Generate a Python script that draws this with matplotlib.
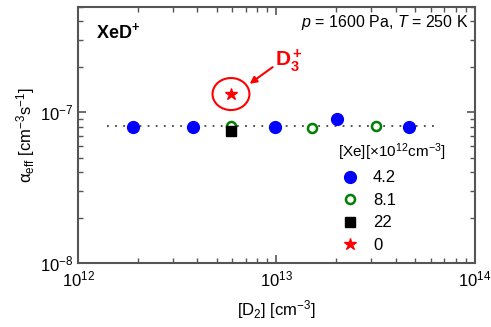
import numpy as np
import matplotlib
matplotlib.use("Agg")
import matplotlib.pyplot as plt
from matplotlib.patches import Ellipse

plt.rcParams['font.family'] = ['Liberation Sans', 'DejaVu Sans']
plt.rcParams['mathtext.fontset'] = 'custom'
plt.rcParams['mathtext.rm'] = 'Liberation Sans'
plt.rcParams['mathtext.it'] = 'Liberation Sans:italic'
plt.rcParams['mathtext.bf'] = 'Liberation Sans:bold'

# [D2] in cm^-3, alpha_eff in cm^3 s^-1
d2_42 = [1.9e12, 3.8e12, 9.8e12, 2.02e13, 4.65e13]
a_42 = [8.0e-8, 8.0e-8, 8.0e-8, 9.0e-8, 8.0e-8]
d2_81 = [5.9e12, 1.51e13, 3.17e13]
a_81 = [8.1e-8, 7.8e-8, 8.1e-8]
d2_22 = [5.9e12]
a_22 = [7.5e-8]
d2_0 = [5.9e12]
a_0 = [1.32e-7]
fit_x = [1.4e12, 6.7e13]
fit_y = [8.05e-8, 8.05e-8]

fig = plt.figure(figsize=(4.91, 3.27), dpi=100)
ax = fig.add_axes([0.159, 0.196, 0.808, 0.783])

ax.plot(fit_x, fit_y, ls=(0, (1, 3.5)), color='#444444', lw=1.3, zorder=1)
ax.plot(d2_42, a_42, 'o', color='#0000ff', ms=8.5, ls='none', label='4.2', zorder=3)
ax.plot(d2_81, a_81, 'o', mfc='white', mec='#008000', mew=1.8, ms=6.5, ls='none', label='8.1', zorder=3)
ax.plot(d2_22, a_22, 's', color='black', ms=6.5, ls='none', label='22', zorder=4)
ax.plot(d2_0, a_0, '*', color='#ff0000', ms=9, ls='none', label='0', zorder=4)

ax.set_xscale('log')
ax.set_yscale('log')
ax.set_xlim(1e12, 1e14)
ax.set_ylim(1e-8, 5e-7)

ax.tick_params(which='both', direction='in', top=True, right=True, labelsize=12, color='#555555')
ax.tick_params(which='major', length=6, width=1.2)
ax.tick_params(which='minor', length=3.5, width=1)
ax.tick_params(axis='x', pad=5)
for s in ax.spines.values():
    s.set_color('#555555')
    s.set_linewidth(1.5)

ax.set_xlabel(r'[D$_2$] [cm$^{-3}$]', fontsize=12, labelpad=6)
ax.set_ylabel(r'α$_{\rm eff}$ [cm$^{-3}$s$^{-1}$]', fontsize=12, labelpad=2)

ax.text(0.045, 0.9, r'XeD$^{\mathbf{+}}$', transform=ax.transAxes, fontsize=13,
        fontweight='bold', va='center')
ax.text(0.985, 0.94, r'$p$ = 1600 Pa, $T$ = 250 K', transform=ax.transAxes,
        fontsize=11.5, ha='right', va='center')

# ellipse around the D3+ point, placed in axes coords
cx, cy = ax.transLimits.transform(ax.transScale.transform((5.9e12, 1.32e-7)))
ax.add_patch(Ellipse((cx, cy), 0.093, 0.125, transform=ax.transAxes, fill=False,
                     edgecolor='#ff0000', lw=1.5, zorder=2))
ax.annotate('', xy=(cx + 0.047, cy + 0.04), xycoords='axes fraction',
            xytext=(cx + 0.105, cy + 0.105), textcoords='axes fraction',
            arrowprops=dict(arrowstyle='-|>', color='#ff0000', lw=1.5,
                            mutation_scale=10, shrinkA=0, shrinkB=0))
ax.text(cx + 0.11, cy + 0.13, r'$\mathbf{D_3^+}$', transform=ax.transAxes,
        fontsize=15, color='#ff0000', fontweight='bold', va='center', ha='left')

leg = ax.legend(loc='upper left', bbox_to_anchor=(0.655, 0.475), frameon=False,
                fontsize=12, title=r'[Xe][×10$^{12}$cm$^{-3}$]', title_fontsize=11,
                handletextpad=0.6, labelspacing=0.45, borderaxespad=0, handlelength=1.5,
                borderpad=0)
leg._legend_box.align = 'left'

fig.savefig('out.png', dpi=100)
